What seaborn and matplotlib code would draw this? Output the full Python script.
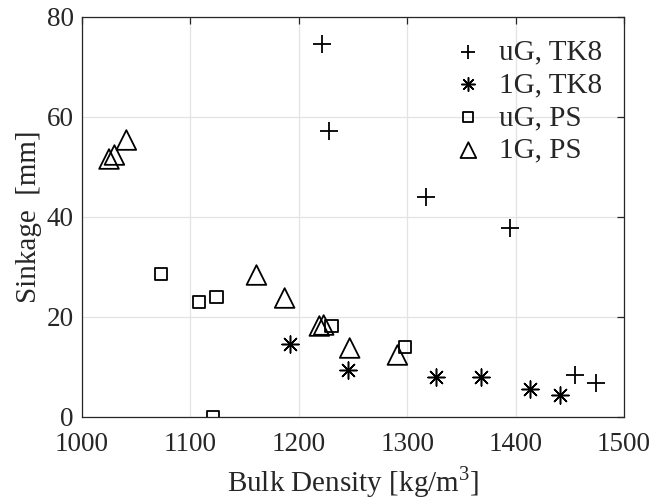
import matplotlib
matplotlib.use("Agg")
import matplotlib.pyplot as plt
import seaborn as sns
import pandas as pd

# data
ug_tk8_density = [1221, 1228, 1317, 1395, 1455, 1474]
ug_tk8_sinkage = [74.6, 57.2, 44.0, 37.7, 8.4, 6.8]

g1_tk8_density = [1192, 1245, 1327, 1368, 1413, 1441]
g1_tk8_sinkage = [14.6, 9.4, 8.0, 8.0, 5.6, 4.4]

ug_ps_density = [1073, 1108, 1124, 1121, 1230, 1298]
ug_ps_sinkage = [28.6, 23.0, 24.0, 0.0, 18.2, 14.0]

g1_ps_density = [1025, 1030, 1041, 1161, 1187, 1219, 1223, 1247, 1291]
g1_ps_sinkage = [51.6, 52.4, 55.4, 28.4, 23.8, 18.2, 18.4, 13.8, 12.4]

series = ["uG, TK8", "1G, TK8", "uG, PS", "1G, PS"]

df = pd.concat([
    pd.DataFrame({"density": ug_tk8_density, "sinkage": ug_tk8_sinkage, "set": series[0]}),
    pd.DataFrame({"density": g1_tk8_density, "sinkage": g1_tk8_sinkage, "set": series[1]}),
    pd.DataFrame({"density": ug_ps_density, "sinkage": ug_ps_sinkage, "set": series[2]}),
    pd.DataFrame({"density": g1_ps_density, "sinkage": g1_ps_sinkage, "set": series[3]}),
])

sns.set_style("white")
plt.rcParams['font.family'] = ['Liberation Serif', 'DejaVu Serif']
plt.rcParams['mathtext.fontset'] = 'custom'
plt.rcParams['mathtext.rm'] = 'Liberation Serif'

fig = plt.figure(figsize=(6.5, 5), dpi=100)
ax = fig.add_axes([0.126, 0.166, 0.834, 0.800])

# marker, size(pt^2), line art?, line width
styles = {
    "uG, TK8": ("+", 170, True, 1.3),
    "1G, TK8": ((8, 2, 0), 150, True, 1.1),
    "uG, PS": ("s", 85, False, 1.3),
    "1G, PS": ("^", 200, False, 1.3),
}

for name in series:
    m, s, line_art, lw = styles[name]
    sub = df[df['set'] == name]
    if line_art:
        sns.scatterplot(data=sub, x='density', y='sinkage', marker=m, s=s,
                        color='black', linewidth=lw, label=name, ax=ax)
    else:
        sns.scatterplot(data=sub, x='density', y='sinkage', marker=m, s=s,
                        facecolors='none', edgecolor='black', linewidth=lw,
                        label=name, ax=ax)

ax.set_xlim(1000, 1500)
ax.set_ylim(0, 80)
ax.set_xticks([1000, 1100, 1200, 1300, 1400, 1500])
ax.set_yticks([0, 20, 40, 60, 80])
ax.grid(True, color='#e3e3e3', linewidth=0.9)
ax.set_axisbelow(True)
for sp in ax.spines.values():
    sp.set_color('#262626')
    sp.set_linewidth(0.9)
ax.tick_params(direction='in', length=5, width=0.9, colors='#262626',
               labelsize=19.5, top=True, right=True)
ax.tick_params(axis='x', pad=11)
ax.tick_params(axis='y', pad=6)

ax.set_xlabel("Bulk Density [kg/m$^\\mathrm{3}$]", fontsize=21, color='#262626', labelpad=5)
ax.set_ylabel("Sinkage  [mm]", fontsize=21, color='#262626', labelpad=3)

leg = ax.legend(loc='upper right', frameon=False, fontsize=21,
                markerscale=0.8, handlelength=1.4, handletextpad=0.35,
                labelspacing=0.22, borderaxespad=0.35)

fig.savefig("out.png", dpi=100)
